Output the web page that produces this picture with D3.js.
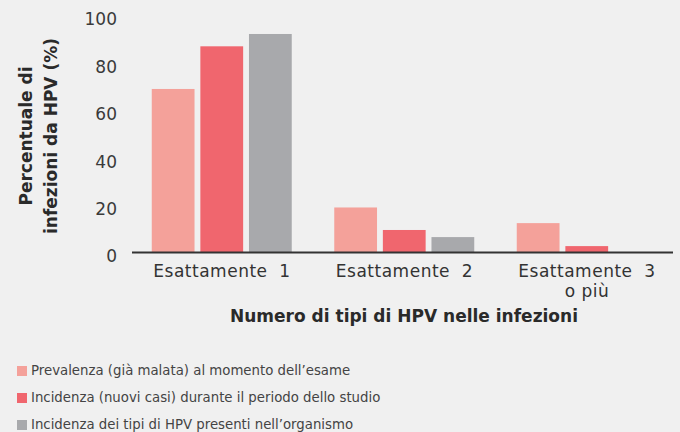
<!DOCTYPE html>
<html lang="it">
<head>
<meta charset="UTF-8">
<title>Tipi di HPV nelle infezioni</title>
<script src="https://d3js.org/d3.v7.min.js"></script>
<style>
  body { margin: 0; background: #f0f0f0; }
  svg { display: block; font-family: "DejaVu Sans", sans-serif; }
</style>
</head>
<body>
<div id="chart"></div>
<script>
// categories and series
var categories = ["Esattamente  1", "Esattamente  2", "Esattamente  3"];
var categoryExtra = ["", "", "o più"];
var seriesNames = [
  "Prevalenza (già malata) al momento dell’esame",
  "Incidenza (nuovi casi) durante il periodo dello studio",
  "Incidenza dei tipi di HPV presenti nell’organismo"
];
var prevalenza = [69, 19, 12.4];
var incidenzaNuovi = [87, 9.5, 2.7];
var incidenzaTipi = [92.2, 6.5, 0];
var yTicks = [0, 20, 40, 60, 80, 100];
var colors = ["#f4a19a", "#f0666e", "#a8a9ac"];

var W = 680, H = 432;
var svg = d3.select("#chart").append("svg")
  .attr("width", W).attr("height", H);

svg.append("rect").attr("width", W).attr("height", H).attr("fill", "#f0f0f0");

var series = [prevalenza, incidenzaNuovi, incidenzaTipi];

// scales
var x0 = d3.scaleBand().domain(categories).range([130.75, 678.25]).padding(0);
var x1 = d3.scaleBand().domain(d3.range(3)).range([21, 161]).paddingInner(0.12);
var y = d3.scaleLinear().domain([0, 100]).range([252.5, 15.5]);

// y tick labels (no axis line)
var yAxis = svg.append("g")
  .attr("transform", "translate(121,0)")
  .call(d3.axisLeft(y).tickValues(yTicks).tickSize(0).tickPadding(4));
yAxis.select(".domain").remove();
yAxis.selectAll("text")
  .attr("font-family", "DejaVu Sans, sans-serif")
  .attr("font-size", 17)
  .attr("fill", "#3a3a3a")
  .attr("dy", "0.55em");

// bars
var groups = svg.selectAll("g.grp")
  .data(categories)
  .enter().append("g")
  .attr("class", "grp")
  .attr("transform", function (d) { return "translate(" + x0(d) + ",0)"; });

groups.selectAll("rect")
  .data(function (d, i) { return series.map(function (s, k) { return { k: k, v: s[i] }; }); })
  .enter().append("rect")
  .attr("x", function (d) { return x1(d.k); })
  .attr("width", x1.bandwidth())
  .attr("y", function (d) { return y(d.v); })
  .attr("height", function (d) { return y(0) - y(d.v); })
  .attr("fill", function (d) { return colors[d.k]; });

// baseline
svg.append("line")
  .attr("x1", 132).attr("x2", 673)
  .attr("y1", y(0)).attr("y2", y(0))
  .attr("stroke", "#333").attr("stroke-width", 2);

// category labels (second line as tspan of the same text)
var xAxis = svg.append("g")
  .attr("transform", "translate(0," + y(0) + ")")
  .call(d3.axisBottom(x0).tickSize(0).tickPadding(0));
xAxis.select(".domain").remove();
xAxis.selectAll("text")
  .attr("font-family", "DejaVu Sans, sans-serif")
  .attr("font-size", 17)
  .attr("letter-spacing", 0.5)
  .attr("fill", "#333")
  .attr("dy", null)
  .attr("y", 24)
  .style("white-space", "pre")
  .each(function (d, i) {
    var t = d3.select(this);
    t.text(null);
    t.append("tspan").attr("x", 0).attr("y", 24).text(d);
    if (categoryExtra[i]) {
      t.append("tspan").attr("x", 0).attr("y", 44.5).text(categoryExtra[i]);
    }
  });

// axis titles
svg.append("text")
  .attr("x", 404).attr("y", 322)
  .attr("text-anchor", "middle")
  .attr("font-size", 17).attr("font-weight", "bold")
  .attr("fill", "#2a2a2a")
  .text("Numero di tipi di HPV nelle infezioni");

var yTitle = svg.append("text")
  .attr("transform", "translate(0,136) rotate(-90)")
  .attr("text-anchor", "middle")
  .attr("font-size", 17).attr("font-weight", "bold")
  .attr("fill", "#2a2a2a");
yTitle.append("tspan").attr("x", 0).attr("y", 32).text("Percentuale di");
yTitle.append("tspan").attr("x", 0).attr("y", 57).text("infezioni da HPV (%)");

// legend
var legend = svg.selectAll("g.leg")
  .data(seriesNames)
  .enter().append("g")
  .attr("class", "leg")
  .attr("transform", function (d, i) { return "translate(17," + (366 + i * 27) + ")"; });
legend.append("rect")
  .attr("width", 10).attr("height", 10)
  .attr("fill", function (d, i) { return colors[i]; });
legend.append("text")
  .attr("x", 14).attr("y", 9)
  .attr("font-size", 13.3)
  .attr("fill", "#444")
  .text(function (d) { return d; });
</script>
</body>
</html>
